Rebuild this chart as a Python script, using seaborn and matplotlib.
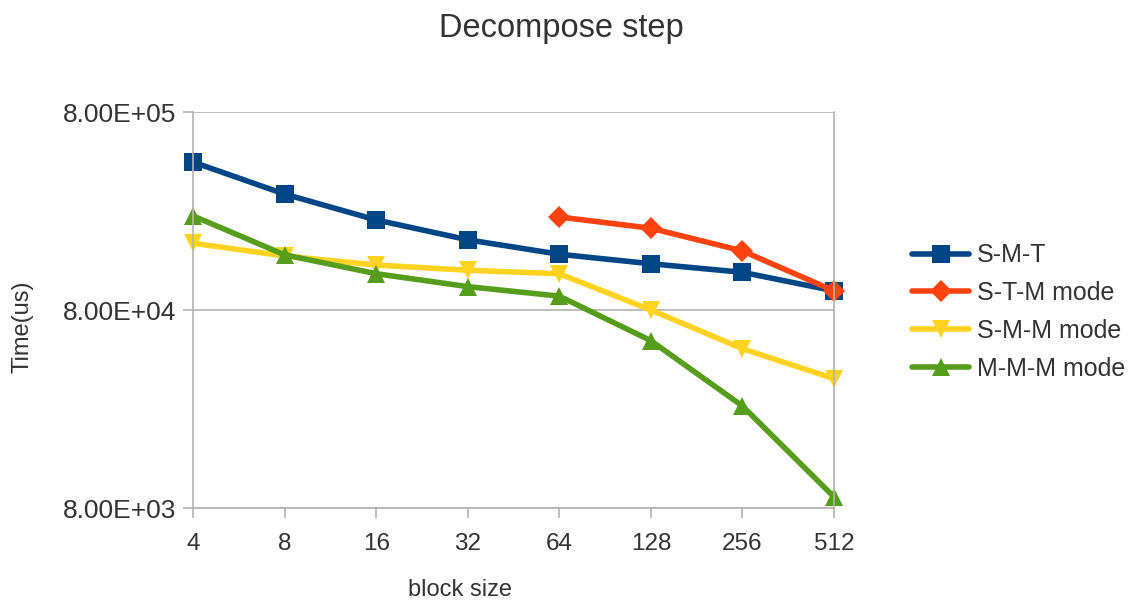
import numpy as np
import pandas as pd
import seaborn as sns
import matplotlib
matplotlib.use("Agg")
import matplotlib.pyplot as plt
from matplotlib.ticker import NullLocator

block_sizes = [4, 8, 16, 32, 64, 128, 256, 512]
smt = [447000, 308000, 228000, 181000, 153000, 137000, 124000, 100000]
stm_sizes = [64, 128, 256, 512]
stm = [236000, 207000, 159000, 100000]
smm = [174000, 150000, 135000, 127000, 122000, 80000, 51000, 36000]
mmm = [239000, 152000, 122000, 105000, 94000, 56000, 26200, 9100]

series_names = ["S-M-T", "S-T-M mode", "S-M-M mode", "M-M-M mode"]
colors = ["#004586", "#ff420e", "#ffd320", "#579d1c"]
marks = ["s", "D", "v", "^"]

df = pd.concat([
    pd.DataFrame({"block size": block_sizes, "time": smt, "series": "S-M-T"}),
    pd.DataFrame({"block size": stm_sizes, "time": stm, "series": "S-T-M mode"}),
    pd.DataFrame({"block size": block_sizes, "time": smm, "series": "S-M-M mode"}),
    pd.DataFrame({"block size": block_sizes, "time": mmm, "series": "M-M-M mode"}),
])

sns.set_style("white")
plt.rcParams["font.family"] = ["Liberation Sans", "DejaVu Sans"]
txt = "#333333"
grey = "#b3b3b3"

fig = plt.figure(figsize=(11.39, 6.05), dpi=100)
ax = fig.add_axes([193 / 1139, 1 - 508 / 605, (834 - 193) / 1139, (508 - 112) / 605])

sns.lineplot(data=df, x="block size", y="time", hue="series", style="series",
             hue_order=series_names, style_order=series_names,
             palette=dict(zip(series_names, colors)),
             markers=dict(zip(series_names, marks)), dashes=False,
             lw=4, markersize=13.5, markeredgewidth=0, ax=ax)

# diamonds look a bit smaller than squares; let markers spill over the frame
for ln in ax.get_lines():
    ln.set_clip_on(False)
    if ln.get_marker() == "D":
        ln.set_markersize(11)

ax.set_xscale("log", base=2)
ax.set_yscale("log")
ax.set_xlim(4, 512)
ax.set_ylim(8000, 800000)
ax.set_xticks(block_sizes)
ax.set_xticklabels([str(b) for b in block_sizes])
ax.set_yticks([8e3, 8e4, 8e5])
ax.set_yticklabels(["8.00E+03", "8.00E+04", "8.00E+05"])
ax.xaxis.set_minor_locator(NullLocator())
ax.yaxis.set_minor_locator(NullLocator())

ax.grid(axis="y", color=grey, lw=1.2)
ax.grid(axis="x", visible=False)
ax.set_axisbelow(True)
for s in ax.spines.values():
    s.set_color(grey)
    s.set_linewidth(1.2)
ax.spines["top"].set_visible(False)

ax.tick_params(axis="x", bottom=True, direction="out", length=7, width=1.2, color=grey,
               labelsize=17.5, labelcolor=txt, pad=11)
ax.tick_params(axis="y", left=True, direction="out", length=7, width=1.2, color=grey,
               labelsize=19, labelcolor=txt, pad=5)

ax.set_xlabel("block size", fontsize=17, color=txt, va="center")
ax.xaxis.set_label_coords((460 - 193) / 641, -(590 - 508) / 396)
ax.set_ylabel("Time(us)", fontsize=17, color=txt, va="center")
ax.yaxis.set_label_coords(-(193 - 22) / 641, (508 - 327) / 396)

fig.text(561 / 1139, 1 - 29 / 605, "Decompose step", fontsize=23.5, color=txt,
         ha="center", va="center")

handles, labels = ax.get_legend_handles_labels()
for h in handles:
    h.set_linewidth(4)
leg = ax.legend(handles, labels, loc="center left", bbox_to_anchor=((912 - 193) / 641, (508 - 312) / 396),
                frameon=False, fontsize=18, handlelength=2.3, handletextpad=0.3,
                labelspacing=0.55, borderaxespad=0, borderpad=0)
for t in leg.get_texts():
    t.set_color(txt)

fig.savefig("out.png", dpi=100)
